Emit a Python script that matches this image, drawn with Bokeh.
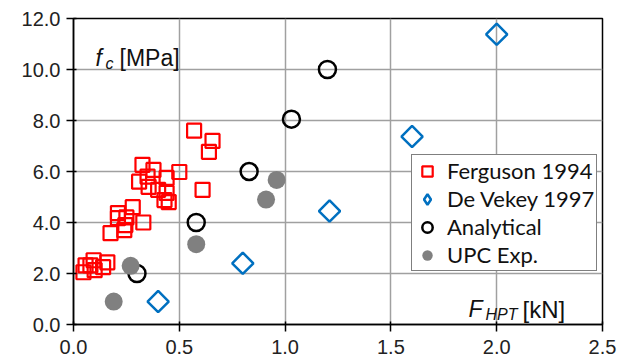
import numpy as np
from bokeh.plotting import figure
from bokeh.models import (Legend, LegendItem, Label, NumeralTickFormatter,
                          Range1d, FixedTicker)
from bokeh.embed import file_html
from bokeh.resources import INLINE

# ---- data ----
ferg_x = [0.047, 0.057, 0.08, 0.095, 0.10, 0.14, 0.16,
          0.175, 0.21, 0.21, 0.24, 0.245, 0.25, 0.28, 0.33,
          0.31, 0.326, 0.35, 0.355, 0.378, 0.40, 0.43, 0.44, 0.44, 0.45, 0.50,
          0.57, 0.61, 0.64, 0.657]
ferg_y = [2.05, 2.32, 2.32, 2.52, 2.13, 2.25, 2.44,
          3.58, 4.17, 4.37, 3.70, 3.90, 4.20, 4.60, 4.00,
          5.60, 6.26, 5.80, 5.40, 6.06, 5.28, 4.88, 5.75, 5.16, 4.80, 5.98,
          7.60, 5.28, 6.77, 7.20]

dev_x = [0.40, 0.80, 1.21, 1.60, 2.00]
dev_y = [0.90, 2.40, 4.45, 7.37, 11.38]

ana_x = [0.30, 0.58, 0.83, 1.03, 1.20]
ana_y = [2.00, 4.00, 6.00, 8.05, 10.00]

upc_x = [0.19, 0.27, 0.58, 0.91, 0.96]
upc_y = [0.90, 2.30, 3.15, 4.90, 5.67]

series_names = ["Ferguson 1994", "De Vekey 1997", "Analytical", "UPC Exp."]
x_ticks = [0.0, 0.5, 1.0, 1.5, 2.0, 2.5]
y_ticks = [0.0, 2.0, 4.0, 6.0, 8.0, 10.0, 12.0]

RED = "#FF0000"
BLUE = "#0070C0"
GREY = "#808080"
TICK_FONT = "Liberation Sans"

p = figure(width=617, height=363, output_backend="svg", toolbar_location=None,
           x_range=Range1d(0, 2.5), y_range=Range1d(0, 12),
           min_border_left=73, min_border_right=15, min_border_top=18,
           min_border_bottom=39, background_fill_color="white",
           border_fill_color="white")
# an off-screen range, used only so a legend glyph can be drawn
p.extra_x_ranges = {"legend_only": Range1d(100, 101)}

p.outline_line_color = "black"
p.outline_line_width = 1.5

for ax in (p.xaxis[0], p.yaxis[0]):
    ax.formatter = NumeralTickFormatter(format="0.0")
    ax.axis_line_color = "black"
    ax.axis_line_width = 1.5
    ax.major_tick_line_color = "black"
    ax.major_tick_line_width = 1.5
    ax.major_tick_in = 3
    ax.major_tick_out = 7
    ax.minor_tick_line_color = None
    ax.major_label_text_font = TICK_FONT
    ax.major_label_text_font_size = "20px"
    ax.major_label_text_color = "#222222"
p.xaxis[0].ticker = FixedTicker(ticks=x_ticks)
p.yaxis[0].ticker = FixedTicker(ticks=y_ticks)
p.xaxis[0].major_label_standoff = 8
p.yaxis[0].major_label_standoff = 6

p.grid.grid_line_color = "#A0A0A0"
p.grid.grid_line_width = 1.5

r_ferg = p.scatter(ferg_x, ferg_y, marker="square", size=14, line_color=RED,
                   line_width=2.2, fill_color=None)
r_dev = p.scatter(dev_x, dev_y, marker="square", size=15, angle=np.pi / 4,
                  line_color=BLUE, line_width=2.5, fill_color=None)
# legend-only diamond renderer (mapped to the off-screen range, so it is clipped)
r_dev_leg = p.scatter(dev_x, dev_y, x_range_name="legend_only",
                      marker="diamond", size=16, line_color=BLUE,
                      line_width=2.5, fill_color=None)
r_ana = p.scatter(ana_x, ana_y, marker="circle", size=17, line_color="black",
                  line_width=2.5, fill_color=None)
r_upc = p.scatter(upc_x, upc_y, marker="circle", size=18, line_color=None,
                  fill_color=GREY)

legend = Legend(items=[
    LegendItem(label=series_names[0], renderers=[r_ferg]),
    LegendItem(label=series_names[1], renderers=[r_dev_leg]),
    LegendItem(label=series_names[2], renderers=[r_ana]),
    LegendItem(label=series_names[3], renderers=[r_upc]),
], location=(338, 53))
legend.label_text_font = "Lato"
legend.label_text_font_size = "22px"
legend.label_text_color = "#111111"
legend.glyph_width = 26
legend.glyph_height = 26
legend.label_height = 26
legend.spacing = 1
legend.padding = 2
legend.margin = 0
legend.label_standoff = 7
legend.border_line_color = "black"
legend.border_line_width = 1.5
legend.background_fill_color = "white"
legend.background_fill_alpha = 1.0
p.add_layout(legend, "center")

def lab(text, y, xoff, size, italic):
    p.add_layout(Label(x=0, y=y, x_offset=xoff, text=text,
                       text_font=TICK_FONT, text_font_size=size,
                       text_font_style="italic" if italic else "normal",
                       text_color="#111111", text_baseline="alphabetic"))

# y-axis title inside the plot
lab("f", 10.47, 22, "23px", True)
lab("c", 10.25, 32, "16px", True)
lab("[MPa]", 10.47, 46, "23px", False)
# x-axis title inside the plot
lab("F", 0.59, 395, "23px", True)
lab("HPT", 0.39, 412, "16px", True)
lab("[kN]", 0.59, 449, "24px", False)

open("out.html", "w").write(file_html(p, INLINE))
